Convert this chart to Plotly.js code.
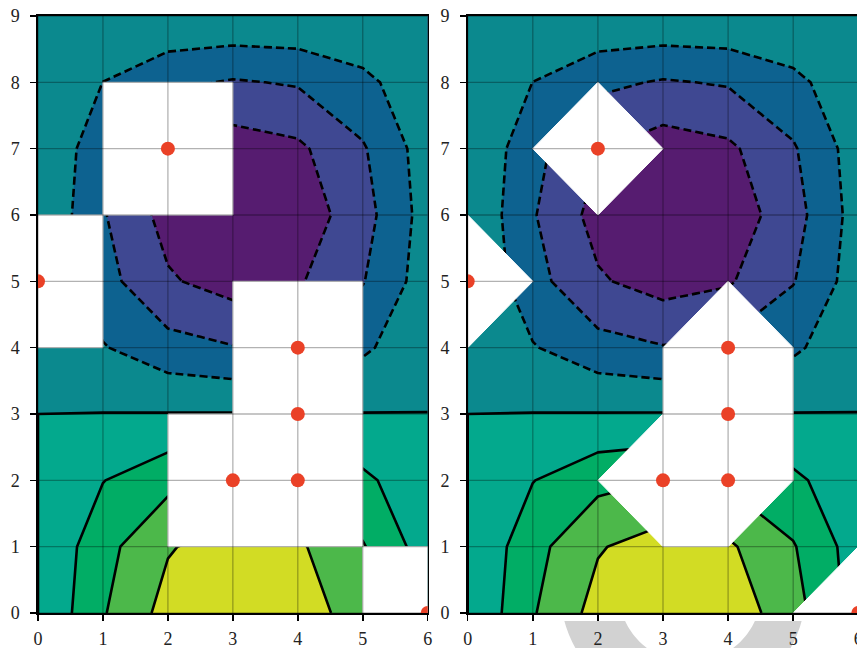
<!DOCTYPE html>
<html>
<head>
<meta charset="utf-8">
<script src="https://cdn.plot.ly/plotly-3.0.1.min.js"></script>
<style>
html,body{margin:0;padding:0;overflow:hidden;background:#fff}
#chart{width:859px;height:648px}
</style>
</head>
<body>
<div id="chart"></div>
<script>
// ---- data ----
const xVals = [0, 1, 2, 3, 4, 5, 6];
const yVals = [0, 1, 2, 3, 4, 5, 6, 7, 8, 9];
// z values, one row per y (0..9), one column per x (0..6)
const zValues = [
  [0,  0.479,  0.841,  0.997,  0.909,  0.598,  0.141],
  [0,  0.416,  0.730,  0.866,  0.789,  0.519,  0.122],
  [0,  0.243,  0.426,  0.505,  0.460,  0.303,  0.071],
  [0,  0.005,  0.009,  0.011,  0.010,  0.006,  0.002],
  [0, -0.234, -0.410, -0.486, -0.443, -0.292, -0.069],
  [0, -0.411, -0.721, -0.855, -0.779, -0.513, -0.121],
  [0, -0.479, -0.841, -0.997, -0.909, -0.598, -0.141],
  [0, -0.421, -0.739, -0.876, -0.799, -0.526, -0.124],
  [0, -0.252, -0.442, -0.523, -0.477, -0.314, -0.074],
  [0, -0.016, -0.027, -0.032, -0.029, -0.019, -0.005]
];
// masked grid points (red dots)
const maskX = [3, 4, 4, 4, 2, 0, 6];
const maskY = [2, 2, 3, 4, 7, 5, 0];
// contour levels
const negLevels = [-0.75, -0.5, -0.25];
const posLevels = [0, 0.25, 0.5, 0.75];
const levelStep = 0.25;
const xTickLabels = ['0', '1', '2', '3', '4', '5', '6'];
const yTickLabels = ['0', '1', '2', '3', '4', '5', '6', '7', '8', '9'];

// ---- styles ----
const bandColors = ['#561c70', '#3f4892', '#0d6290', '#0b898e', '#03a98d', '#01ad65', '#4cb84a', '#d2dc24'];
const dotColor = '#ea4127';

function stepScale(cols) {
  const n = cols.length, s = [];
  cols.forEach((c, k) => { s.push([k / n, c]); s.push([(k + 1) / n, c]); });
  return s;
}

const isMasked = (x, y) => maskX.some((mx, k) => mx === x && maskY[k] === y);

function maskPolys(cornerMask) {
  const xs = [], ys = [];
  for (let i = 0; i < xVals.length - 1; i++) {
    for (let j = 0; j < yVals.length - 1; j++) {
      const x0 = xVals[i], x1 = xVals[i + 1], y0 = yVals[j], y1 = yVals[j + 1];
      const corners = [[x0, y0], [x1, y0], [x1, y1], [x0, y1]];
      const m = corners.map(c => isMasked(c[0], c[1]));
      const n = m.filter(Boolean).length;
      if (!n) continue;
      let poly;
      if (!cornerMask || n >= 2) poly = corners;
      else {
        const k = m.indexOf(true);
        poly = [corners[(k + 3) % 4], corners[k], corners[(k + 1) % 4]];
      }
      poly.forEach(p => { xs.push(p[0]); ys.push(p[1]); });
      xs.push(poly[0][0]); ys.push(poly[0][1]);
      xs.push(null); ys.push(null);
    }
  }
  return { xs, ys };
}

function gridLines() {
  const xs = [], ys = [];
  const xmin = xVals[0], xmax = xVals[xVals.length - 1];
  const ymin = yVals[0], ymax = yVals[yVals.length - 1];
  xVals.forEach(x => { xs.push(x, x, null); ys.push(ymin, ymax, null); });
  yVals.forEach(y => { xs.push(xmin, xmax, null); ys.push(y, y, null); });
  return { xs, ys };
}

function subplotTraces(xa, ya, cornerMask) {
  const common = { x: xVals, y: yVals, z: zValues, xaxis: xa, yaxis: ya, showscale: false, hoverinfo: 'skip', autocontour: false };
  const fill = Object.assign({}, common, {
    type: 'contour',
    contours: { start: negLevels[0], end: posLevels[posLevels.length - 1], size: levelStep, coloring: 'fill', showlines: false },
    colorscale: stepScale(bandColors),
    line: { width: 0, smoothing: 0 }
  });
  const neg = Object.assign({}, common, {
    type: 'contour',
    contours: { start: negLevels[0], end: negLevels[negLevels.length - 1], size: levelStep, coloring: 'none' },
    line: { color: '#000', width: 2.6, dash: '8px,4px', smoothing: 0 }
  });
  const pos = Object.assign({}, common, {
    type: 'contour',
    contours: { start: posLevels[0], end: posLevels[posLevels.length - 1], size: levelStep, coloring: 'none' },
    line: { color: '#000', width: 2.6, smoothing: 0 }
  });
  const mp = maskPolys(cornerMask);
  const mask = {
    type: 'scatter', mode: 'lines', x: mp.xs, y: mp.ys, xaxis: xa, yaxis: ya,
    fill: 'toself', fillcolor: '#ffffff', line: { color: '#ffffff', width: 1 },
    hoverinfo: 'skip', connectgaps: false
  };
  const gl = gridLines();
  const grid = {
    type: 'scatter', mode: 'lines', x: gl.xs, y: gl.ys, xaxis: xa, yaxis: ya,
    line: { color: 'rgba(0,0,0,0.3)', width: 1.3 }, hoverinfo: 'skip', connectgaps: false
  };
  const dots = {
    type: 'scatter', mode: 'markers', x: maskX, y: maskY, xaxis: xa, yaxis: ya,
    marker: { color: dotColor, size: 14, line: { width: 0 } }, hoverinfo: 'skip'
  };
  return [fill, neg, pos, mask, grid, dots];
}

const data = subplotTraces('x', 'y', false).concat(subplotTraces('x2', 'y2', true));

// ---- layout ----
const W = 859, H = 648, ML = 38, MR = 0, MT = 16, MB = 35;
const PW = W - ML - MR, PH = H - MT - MB;
const toPX = px => (px - ML) / PW;
const toPY = py => (H - MB - py) / PH;

const tickFont = { family: 'Liberation Serif, Times New Roman, serif', size: 18, color: '#222' };
function xAxis(domain, anchor) {
  return {
    domain: domain, anchor: anchor, range: [0, 6], tickmode: 'array', tickvals: xVals, ticktext: xTickLabels,
    showgrid: false, zeroline: false, showline: true, mirror: true, linecolor: '#000', linewidth: 1.6,
    ticks: 'outside', ticklen: 6, tickwidth: 1.5, tickcolor: '#000', tickfont: tickFont, fixedrange: true,
    ticklabelstandoff: 3, ticklabeloverflow: 'allow'
  };
}
function yAxis(anchor) {
  return {
    domain: [0, 1], anchor: anchor, range: [0, 9], tickmode: 'array', tickvals: yVals, ticktext: yTickLabels,
    showgrid: false, zeroline: false, showline: true, mirror: true, linecolor: '#000', linewidth: 1.6,
    ticks: 'outside', ticklen: 6, tickwidth: 1.5, tickcolor: '#000', tickfont: tickFont, fixedrange: true,
    ticklabelstandoff: 7, ticklabeloverflow: 'allow'
  };
}

// light grey watermark ring at the bottom of the image
const outerRing = { cx: 683, cy: 588.5, r: 123 };
const innerRing = { cx: 690, cy: 591, r: 71.5 };
function ringSide(sign) {
  const yTop = 621, yBot = 652, n = 12, pts = [];
  for (let k = 0; k <= n; k++) {
    const y = yTop + (yBot - yTop) * k / n;
    pts.push([outerRing.cx + sign * Math.sqrt(outerRing.r ** 2 - (y - outerRing.cy) ** 2), y]);
  }
  for (let k = n; k >= 0; k--) {
    const y = yTop + (yBot - yTop) * k / n;
    pts.push([innerRing.cx + sign * Math.sqrt(innerRing.r ** 2 - (y - innerRing.cy) ** 2), y]);
  }
  return 'M' + pts.map(p => toPX(p[0]).toFixed(5) + ',' + toPY(p[1]).toFixed(5)).join('L') + 'Z';
}
const wmShape = s => ({ type: 'path', xref: 'paper', yref: 'paper', path: ringSide(s), fillcolor: '#d2d2d2', line: { width: 0 }, layer: 'below' });

const layout = {
  width: W, height: H,
  margin: { l: ML, r: MR, t: MT, b: MB, pad: 0 },
  paper_bgcolor: '#ffffff', plot_bgcolor: '#ffffff',
  showlegend: false,
  xaxis: xAxis([0, (427.7 - ML) / PW], 'y'),
  yaxis: yAxis('x'),
  xaxis2: xAxis([(467.7 - ML) / PW, (858.3 - ML) / PW], 'y2'),
  yaxis2: yAxis('x2'),
  shapes: [wmShape(-1), wmShape(1)]
};

Plotly.newPlot('chart', data, layout, { staticPlot: true, displayModeBar: false });
</script>
</body>
</html>
